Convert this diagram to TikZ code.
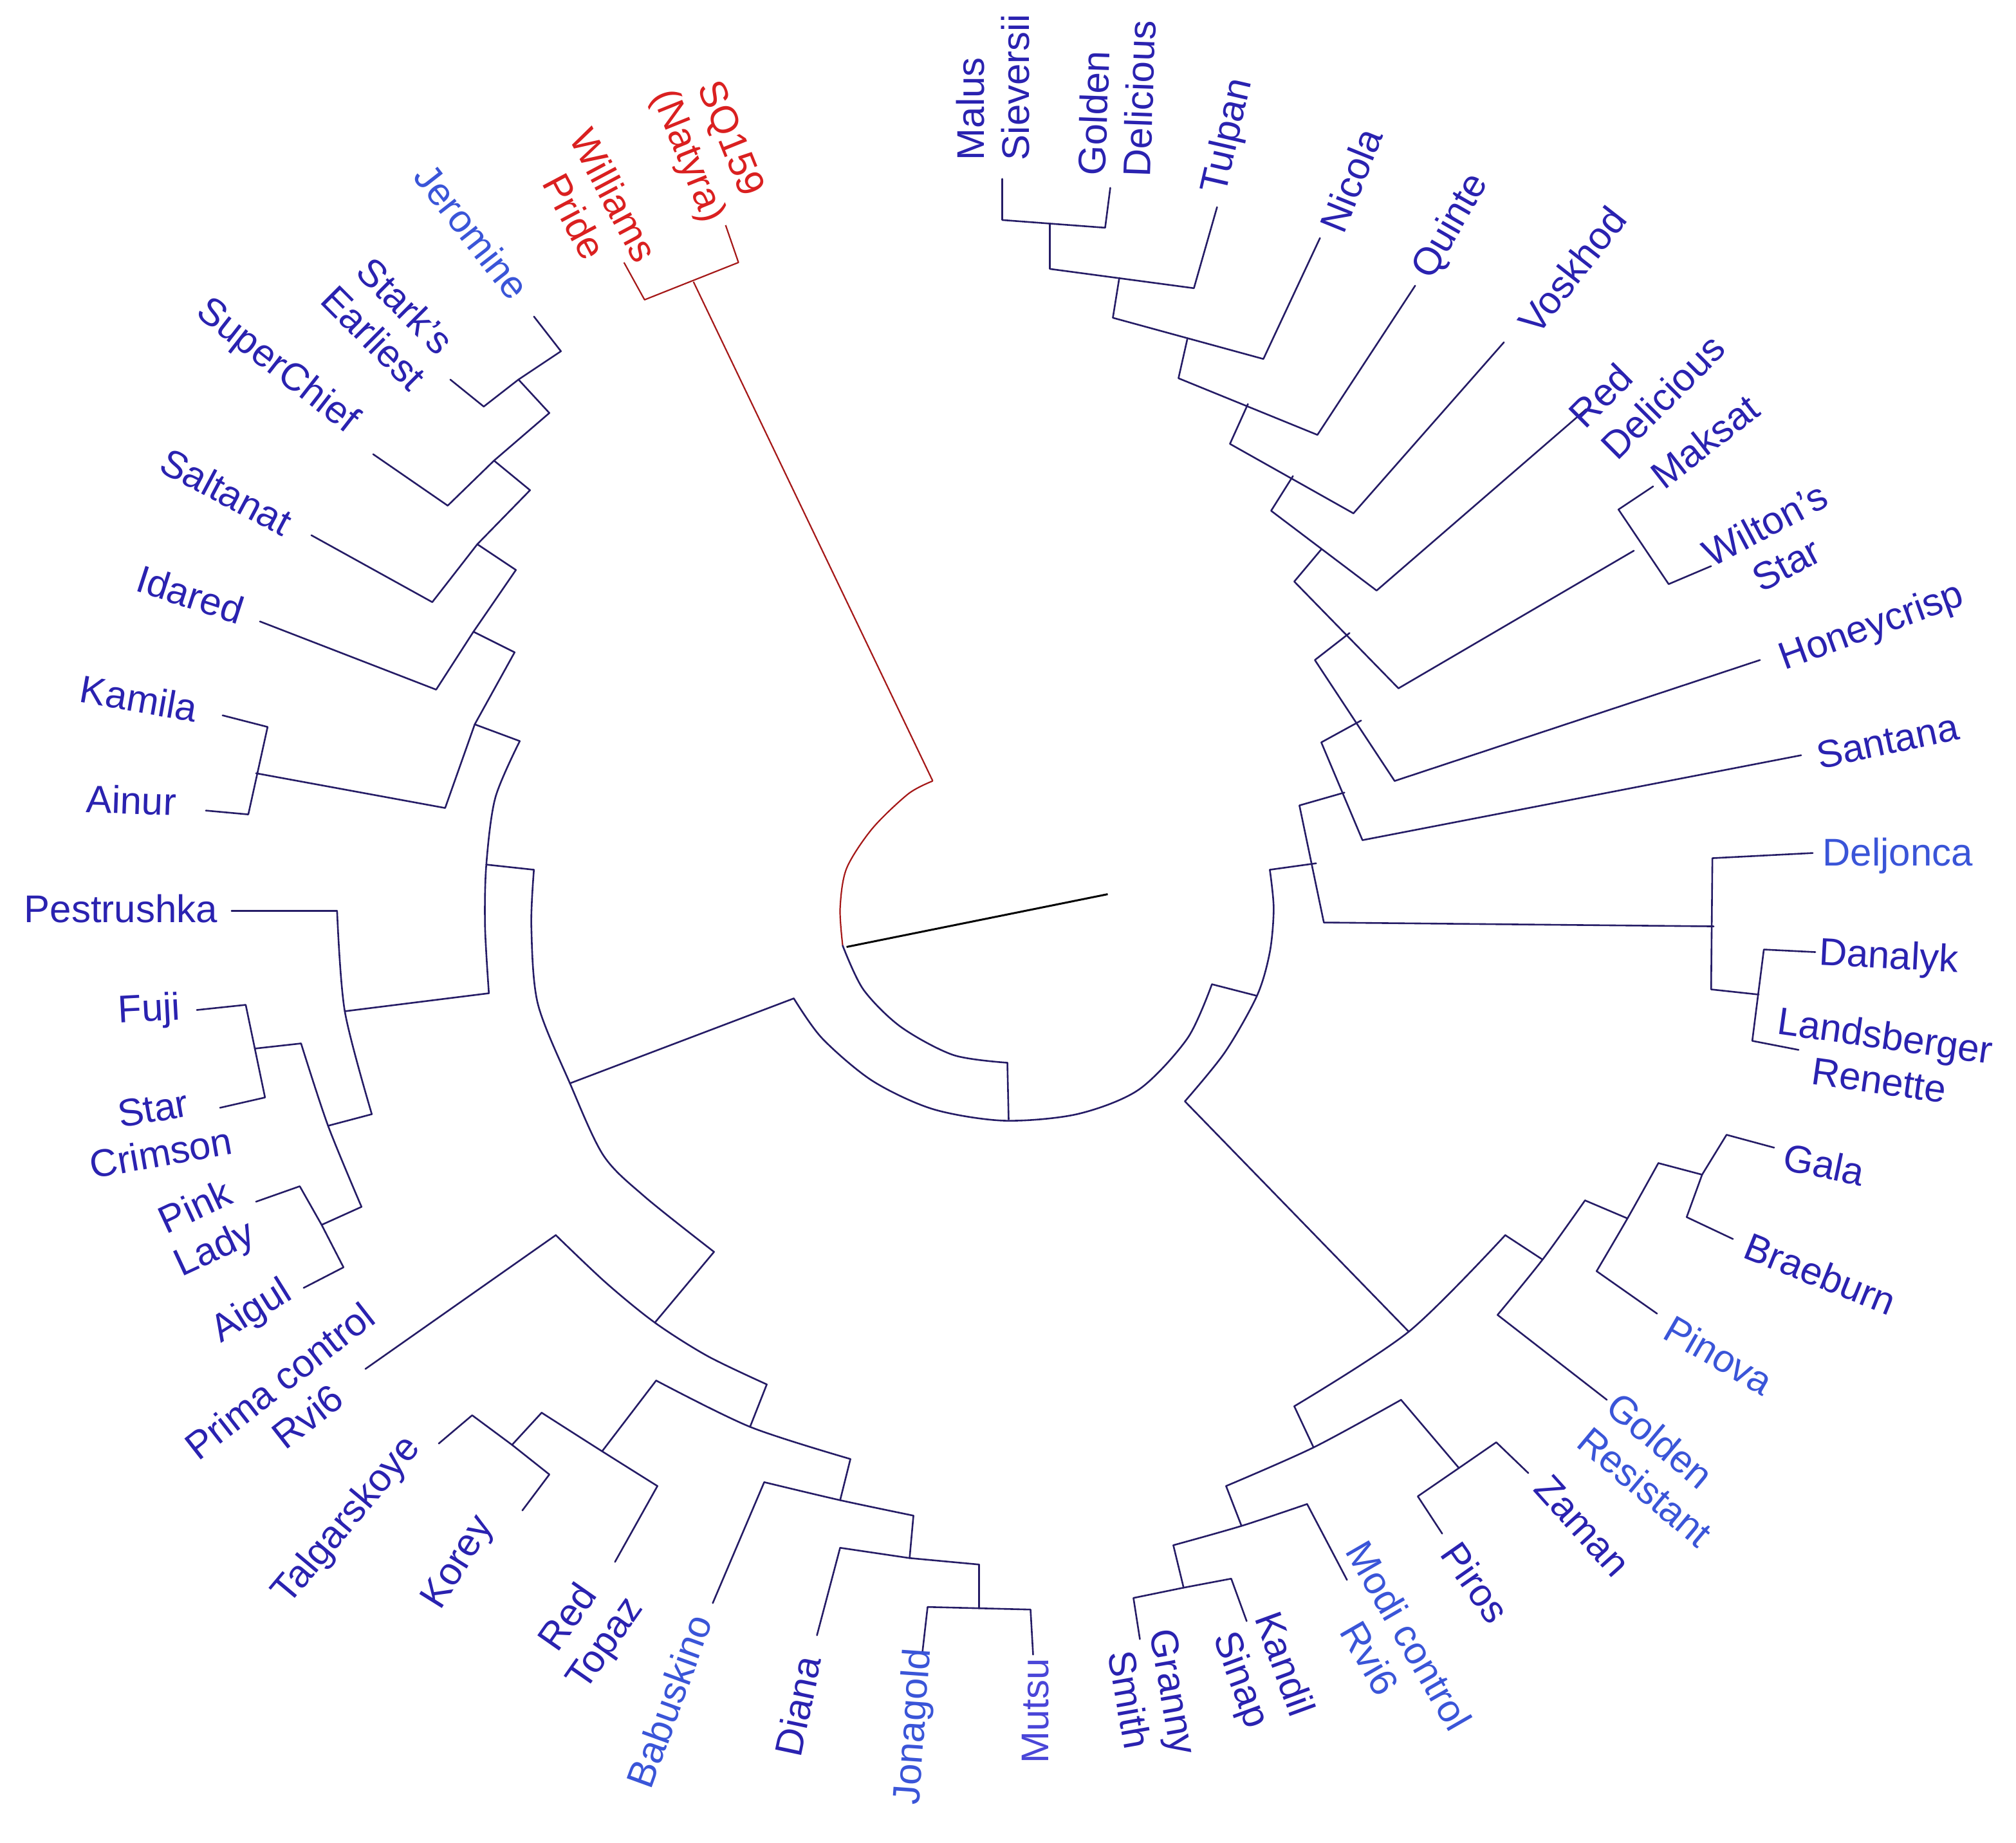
\documentclass[tikz,border=0pt]{standalone}
\usepackage{fontspec}
\setmainfont{Liberation Sans}
\definecolor{lc}{HTML}{251C66}
\definecolor{rc}{HTML}{A51818}
\definecolor{db}{HTML}{2A22B0}
\definecolor{mb}{HTML}{3A55D8}
\definecolor{vb}{HTML}{4A46D8}
\definecolor{rt}{HTML}{DA2020}
\begin{document}
\begin{tikzpicture}[x=1pt,y=-1pt,
  br/.style={draw=lc,line width=1.3pt,line join=round,line cap=round},
  rb/.style={draw=rc,line width=1.1pt,line join=round},
  lab/.style={text=db,font=\fontsize{30}{35}\selectfont,inner sep=0pt,align=center},
  labm/.style={lab,text=mb},
  labr/.style={lab,text=rt}]
\useasboundingbox (0,0) rectangle (1567,1432);
% ---------- centre ----------
\draw[rb] (539,219) -- (725,607);
\draw[rb] plot[smooth] coordinates {(725,607) (706,617) (678,644) (658,675) (653,706) (655,735)};
\draw[br] plot[smooth] coordinates {(655,735) (671,769) (700,798) (741,820) (783,826)};
\draw[br] (783,826) -- (784,870);
\draw[draw=black,line width=1.5pt] (658,736) -- (861,695);
\draw[br] plot[smooth] coordinates {(617,776) (639,807) (678,840) (725,862) (780,871) (837,866) (885,847) (923,807) (942,765)};
\draw[br] (942,765) -- (977,774);
\draw[br] plot[smooth] coordinates {(987,676) (990,706) (987,740) (977,774) (952,818) (921,856)};
\draw[br] (921,856) -- (1095,1035);
\draw[br] (443,842) -- (617,776);
% ---------- red clade ----------
\draw[rb] (485,204) -- (501,233) -- (574,204) -- (564,175);
% ---------- top-right ----------
\draw[br] (779,139) -- (779,171) -- (859,177) -- (863,146);
\draw[br] (816,174) -- (816,209) -- (928,224) -- (946,161);
\draw[br] (870,216) -- (865,247) -- (982,279) -- (1026,185);
\draw[br] (923,263) -- (916,294) -- (1024,338) -- (1100,222);
\draw[br] (970,314) -- (956,345) -- (1052,399) -- (1169,266);
\draw[br] (1005,370) -- (988,397) -- (1070,459) -- (1233,318);
\draw[br] (1027,427) -- (1006,452) -- (1087,535) -- (1270,428);
\draw[br] (1285,378) -- (1258,396) -- (1297,454) -- (1330,440);
\draw[br] (1049,492) -- (1022,513) -- (1084,607) -- (1368,513);
\draw[br] (1058,560) -- (1027,577) -- (1059,653) -- (1400,587);
\draw[br] (1045,616) -- (1010,626) -- (1029,717) -- (1332,720);
\draw[br] (1023,671) -- (987,676);
\draw[br] (1409,663) -- (1331,667) -- (1330,769) -- (1367,773);
\draw[br] (1411,740) -- (1371,738) -- (1362,809) -- (1398,816);
% ---------- left ----------
\draw[br] (415,246) -- (436,273) -- (403,295) -- (376,316) -- (350,295);
\draw[br] (403,295) -- (427,321) -- (384,358) -- (348,393) -- (290,353);
\draw[br] (384,358) -- (412,381) -- (371,423) -- (336,468) -- (242,416);
\draw[br] (371,423) -- (401,443) -- (368,491) -- (339,536) -- (202,483);
\draw[br] (368,491) -- (400,507) -- (369,563) -- (346,628) -- (199,601);
\draw[br] (173,556) -- (208,565) -- (193,633) -- (160,630);
\draw[br] (369,563) -- (404,576);
\draw[br] plot[smooth] coordinates {(404,576) (385,620) (378,672) (377,720) (380,772)};
\draw[br] (378,672) -- (415,676);
\draw[br] plot[smooth] coordinates {(415,676) (413,720) (418,780) (443,842) (469,898) (501,930) (555,973)};
\draw[br] (180,708) -- (262,708);
\draw[br] plot[smooth] coordinates {(262,708) (268,786) (289,866)};
\draw[br] (268,786) -- (380,772);
\draw[br] (289,866) -- (255,875);
\draw[br] (153,785) -- (191,781) -- (206,853) -- (171,861);
\draw[br] (198,815) -- (234,811);
\draw[br] plot[smooth] coordinates {(234,811) (255,875) (281,938)};
\draw[br] (281,938) -- (250,952);
\draw[br] (199,934) -- (233,922) -- (250,952) -- (267,985) -- (236,1001);
% ---------- bottom-left ----------
\draw[br] (555,973) -- (509,1028);
\draw[br] plot[smooth] coordinates {(432,960) (471,997) (509,1028) (550,1054) (596,1076)};
\draw[br] (284,1064) -- (432,960);
\draw[br] (596,1076) -- (583,1109);
\draw[br] plot[smooth] coordinates {(510,1073) (583,1109) (661,1134)};
\draw[br] (510,1073) -- (468,1128);
\draw[br] plot[smooth] coordinates {(421,1098) (468,1128) (511,1155)};
\draw[br] (511,1155) -- (478,1214);
\draw[br] (421,1098) -- (398,1123);
\draw[br] (341,1122) -- (367,1100) -- (398,1123) -- (427,1146) -- (406,1174);
\draw[br] (661,1134) -- (653,1166);
\draw[br] plot[smooth] coordinates {(594,1152) (653,1166) (710,1178)};
\draw[br] (594,1152) -- (554,1246);
\draw[br] (710,1178) -- (707,1211);
\draw[br] (653,1203) -- (707,1211) -- (761,1216);
\draw[br] (653,1203) -- (635,1271);
\draw[br] (761,1216) -- (761,1250);
\draw[br] (717,1284) -- (721,1249) -- (761,1250) -- (801,1251) -- (803,1286);
% ---------- bottom-right ----------
\draw[br] plot[smooth] coordinates {(1170,960) (1095,1035) (1006,1093)};
\draw[br] (1170,960) -- (1199,979);
\draw[br] plot[smooth] coordinates {(1164,1022) (1199,979) (1232,933)};
\draw[br] (1164,1022) -- (1249,1088);
\draw[br] (1232,933) -- (1265,947);
\draw[br] plot[smooth] coordinates {(1241,988) (1265,947) (1289,904)};
\draw[br] (1241,988) -- (1288,1021);
\draw[br] (1289,904) -- (1323,913);
\draw[br] (1379,892) -- (1342,882) -- (1323,913) -- (1311,946) -- (1347,963);
\draw[br] (1006,1093) -- (1021,1125);
\draw[br] plot[smooth] coordinates {(953,1155) (1021,1125) (1089,1088)};
\draw[br] (1089,1088) -- (1134,1141);
\draw[br] (1121,1192) -- (1102,1163) -- (1134,1141) -- (1163,1121) -- (1188,1145);
\draw[br] (953,1155) -- (965,1186);
\draw[br] plot[smooth] coordinates {(912,1201) (965,1186) (1016,1169)};
\draw[br] (1016,1169) -- (1047,1228);
\draw[br] (912,1201) -- (920,1234);
\draw[br] (886,1274) -- (881,1242) -- (920,1234) -- (957,1227) -- (969,1260);
% ---------- labels ----------
\node[labr,rotate=-68] (sq) at (550,115) {SQ159\\(Natyra)};
\node[labr,rotate=-62] (wp) at (462,160) {Williams\\Pride};
\node[labm,rotate=-52] (je) at (367,180) {Jeromine};
\node[lab,rotate=-45] (st) at (303,250) {Stark's\\Earliest};
\node[lab,rotate=-38] (sc) at (215,285) {SuperChief};
\node[lab,rotate=-28] (sa) at (176,382) {Saltanat};
\node[lab,rotate=-18] (id) at (148,462) {Idared};
\node[lab,rotate=-10] (ka) at (108,543) {Kamila};
\node[lab,rotate=-2] (ai) at (102,622) {Ainur};
\node[lab] (pe) at (94,706) {Pestrushka};
\node[lab,rotate=3] (fu) at (116,786) {Fuji};
\node[lab,rotate=10] (scr) at (122,879) {Star\\Crimson};
\node[lab,rotate=25] (pl) at (160,956) {Pink\\Lady};
\node[lab,rotate=32] (ag) at (196,1020) {Aigul};
\node[lab,rotate=38] (pc) at (228,1087) {Prima control\\Rvi6};
\node[lab,rotate=50] (ta) at (270,1182) {Talgarskoye};
\node[lab,rotate=58] (ko) at (357,1215) {Korey};
\node[lab,rotate=55] (rtz) at (457,1268) {Red\\Topaz};
\node[labm,rotate=70] (ba) at (520,1322) {Babuskino};
\node[lab,rotate=78] (di) at (620,1326) {Diana};
\node[labm,rotate=86] (jo) at (711,1342) {Jonagold};
\node[lab,text=vb,rotate=90] (mu) at (805,1330) {Mutsu};
\node[lab,rotate=-80] (gs) at (895,1318) {Granny\\Smith};
\node[lab,rotate=-70] (ks) at (980,1300) {Kandil\\Sinap};
\node[labm,rotate=-60] (mc) at (1080,1280) {Modi control\\Rvi6};
\node[lab,rotate=-55] (pi) at (1147,1230) {Piros};
\node[lab,rotate=-48] (za) at (1230,1186) {Zaman};
\node[labm,rotate=-40,align=left] (gr) at (1290,1142) {Golden\\Resistant};
\node[labm,rotate=-30] (pn) at (1336,1053) {Pinova};
\node[lab,rotate=-22] (bb) at (1415,990) {Braeburn};
\node[lab,rotate=-12] (ga) at (1418,905) {Gala};
\node[lab,rotate=-8] (lr) at (1463,822) {Landsberger\\Renette};
\node[lab,rotate=-3] (dy) at (1468,745) {Danalyk};
\node[labm] (dj) at (1475,665) {Deljonca};
\node[lab,rotate=12] (sn) at (1467,576) {Santana};
\node[lab,rotate=20] (hc) at (1455,488) {Honeycrisp};
\node[lab,rotate=28] (ws) at (1380,423) {Wilton's\\Star};
\node[lab,rotate=38] (mk) at (1325,343) {Maksat};
\node[lab,rotate=45,align=left] (rd) at (1280,296) {Red\\Delicious};
\node[lab,rotate=52] (vo) at (1222,210) {Voskhod};
\node[lab,rotate=60] (qu) at (1128,176) {Quinte};
\node[lab,rotate=68] (ni) at (1050,140) {Nicola};
\node[lab,rotate=77] (tu) at (955,106) {Tulpan};
\node[lab,rotate=88,align=left] (gd) at (868,76) {Golden\\Delicious};
\node[lab,rotate=90,align=left] (ms) at (772,68) {Malus\\Sieversii};
\end{tikzpicture}
\end{document}
